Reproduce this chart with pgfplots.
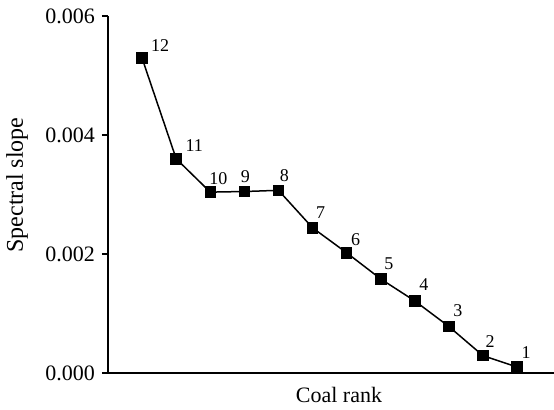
\documentclass[border=0pt]{standalone}
\usepackage{fontspec}
\setmainfont{Liberation Serif}
\usepackage{pgfplots}
\usepackage{pgfplotstable}
\pgfplotsset{compat=1.18}
\pgfplotstableread{
x y lab dx dy
1 0.00529 12 9 6.5
2 0.00360 11 9 6.5
3 0.00304 10 4 7
4 0.00305 9 0.5 7.5
5 0.00307 8 3 7.5
6 0.00244 7 4 7.5
7 0.00202 6 4.5 6.5
8 0.00158 5 4 7.5
9 0.00121 4 4.5 8
10 0.00078 3 4.5 8
11 0.00029 2 3.5 7
12 0.00010 1 4.5 7
}\slopedata
\begin{document}
\begin{tikzpicture}
\begin{axis}[
  at={(0,0)}, anchor=south west,
  scale only axis, width=223pt, height=178.5pt,
  xmin=0, xmax=13.08, ymin=0, ymax=0.006,
  axis x line*=bottom, axis y line*=left,
  axis line style={-, line width=0.75pt},
  xtick=\empty,
  ytick={0,0.002,0.004,0.006},
  scaled y ticks=false,
  yticklabel style={/pgf/number format/fixed, /pgf/number format/fixed zerofill, /pgf/number format/precision=3, font=\fontsize{11}{13}\selectfont},
  /pgf/number format/assume math mode=true,
  tick align=outside, major tick length=3pt,
  tick style={line width=0.75pt, black},
  ylabel={Spectral slope},
  xlabel={Coal rank},
  every axis y label/.style={at={(rel axis cs:0,0.5)}, xshift=-45.5pt, yshift=4.75pt, rotate=90, anchor=center, font=\fontsize{12}{14}\selectfont},
  every axis x label/.style={at={(rel axis cs:0.518,0)}, yshift=-11pt, anchor=center, font=\fontsize{11}{13}\selectfont},
  clip=false,
]
\addplot[black, line width=0.75pt, mark=square*, mark size=2.5pt,
  point meta=explicit symbolic,
  visualization depends on={\thisrow{dx} \as \dx},
  visualization depends on={\thisrow{dy} \as \dy},
  nodes near coords,
  every node near coord/.append style={anchor=center, xshift=\dx pt, yshift=\dy pt, font=\fontsize{9}{11}\selectfont, inner sep=0pt},
] table[x=x, y=y, meta=lab] {\slopedata};
\end{axis}
\pgfresetboundingbox
\path[use as bounding box] (-54pt,-18.5pt) rectangle (223pt,186.5pt);
\end{tikzpicture}
\end{document}
